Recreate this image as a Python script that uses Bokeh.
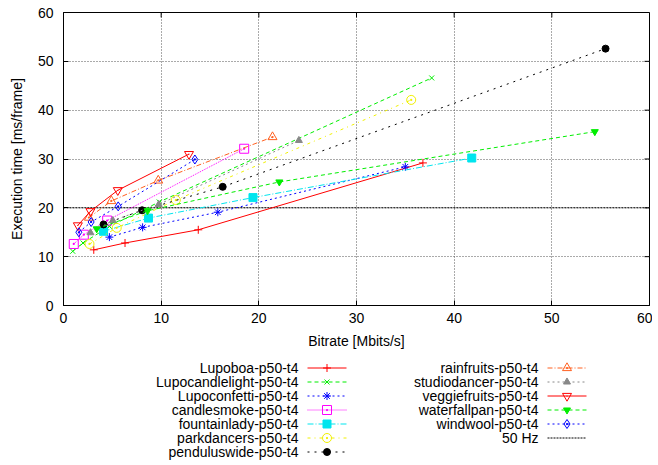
from bokeh.plotting import figure
from bokeh.models import Range1d, FixedTicker
from bokeh.layouts import column
from bokeh.embed import file_html
from bokeh.resources import INLINE
from bokeh.core.properties import value

# ---------------- data ----------------
lupoboa_x = [3.1, 6.3, 13.8, 36.8]
lupoboa_y = [11.4, 12.8, 15.5, 29.2]
lupocandlelight_x = [0.95, 2.0, 4.7, 9.8, 37.7]
lupocandlelight_y = [11.1, 12.8, 16.2, 21.2, 46.6]
lupoconfetti_x = [4.7, 8.1, 15.8, 35.0]
lupoconfetti_y = [14.0, 16.0, 19.1, 28.4]
candlesmoke_x = [1.05, 2.08, 4.47, 18.5]
candlesmoke_y = [12.6, 14.5, 17.4, 32.1]
fountainlady_x = [4.1, 8.7, 19.4, 41.8]
fountainlady_y = [15.2, 17.9, 22.1, 30.2]
parkdancers_x = [2.66, 5.45, 11.5, 35.6]
parkdancers_y = [12.6, 15.9, 21.6, 42.1]
penduluswide_x = [4.1, 8.05, 16.3, 55.5]
penduluswide_y = [16.6, 19.5, 24.3, 52.6]
rainfruits_x = [2.6, 4.9, 9.7, 21.4]
rainfruits_y = [18.0, 21.4, 25.6, 34.5]
studiodancer_x = [2.76, 5.05, 9.75, 24.1]
studiodancer_y = [14.9, 17.4, 20.7, 33.8]
veggiefruits_x = [1.47, 2.76, 5.56, 12.85]
veggiefruits_y = [16.4, 19.3, 23.6, 31.0]
waterfallpan_x = [3.4, 8.6, 22.1, 54.4]
waterfallpan_y = [15.7, 19.4, 25.3, 35.6]
windwool_x = [1.57, 2.83, 5.6, 13.45]
windwool_y = [15.0, 17.1, 20.3, 29.9]
fifty_hz_x = [0, 60]
fifty_hz_y = [20, 20]

x_ticks = [0, 10, 20, 30, 40, 50, 60]
y_ticks = [0, 10, 20, 30, 40, 50, 60]

series_names = ["Lupoboa-p50-t4", "Lupocandlelight-p50-t4", "Lupoconfetti-p50-t4",
                "candlesmoke-p50-t4", "fountainlady-p50-t4", "parkdancers-p50-t4",
                "penduluswide-p50-t4", "rainfruits-p50-t4", "studiodancer-p50-t4",
                "veggiefruits-p50-t4", "waterfallpan-p50-t4", "windwool-p50-t4"]
series_x = [lupoboa_x, lupocandlelight_x, lupoconfetti_x, candlesmoke_x, fountainlady_x,
            parkdancers_x, penduluswide_x, rainfruits_x, studiodancer_x, veggiefruits_x,
            waterfallpan_x, windwool_x]
series_y = [lupoboa_y, lupocandlelight_y, lupoconfetti_y, candlesmoke_y, fountainlady_y,
            parkdancers_y, penduluswide_y, rainfruits_y, studiodancer_y, veggiefruits_y,
            waterfallpan_y, windwool_y]

# ---------------- styles ----------------
colors = ["#ff0000", "#00ee00", "#0000ff", "#ff00ff", "#00e5ee", "#f0f000",
          "#000000", "#ff6020", "#888888", "#ff0000", "#00ee00", "#0000ff"]
dashes = ["solid", "4 3", "2 3", "1 1", "6 2 1 2", "3 4 1 4",
          "2 5", "5 2 1 2", "2 3", "solid", "4 3", "2 3"]
markers = ["cross", "x", "asterisk", "square_dot", "square", "circle_dot",
           "circle", "triangle_dot", "triangle", "inverted_triangle", "inverted_triangle", "diamond_dot"]
filled = [False, False, False, False, True, False, True, False, True, False, True, False]
sizes = [8, 7, 8, 9, 8, 9, 7, 9, 7, 9, 7, 9]
extra_dot = [False] * 9 + [True, False, False]

FONT = "Liberation Sans"
FS = "14px"
W = 652
BL, BR = 63, 3

X0, X1 = x_ticks[0], x_ticks[-1]
Y0, Y1 = y_ticks[0], y_ticks[-1]

p = figure(width=W, height=351, x_range=Range1d(X0, X1), y_range=Range1d(Y0, Y1),
           output_backend="svg", toolbar_location=None, title=None,
           min_border_left=BL, min_border_right=BR, min_border_top=12, min_border_bottom=43)
p.background_fill_color = "white"
p.border_fill_color = "white"
p.outline_line_color = "black"
p.outline_line_width = 1

for ax in [p.xaxis[0], p.yaxis[0]]:
    ax.major_tick_in = 5
    ax.major_tick_out = 0
    ax.minor_tick_line_color = None
    ax.axis_line_color = "black"
    ax.major_tick_line_color = "black"
    ax.major_label_text_font = FONT
    ax.major_label_text_font_size = FS
    ax.major_label_text_color = "black"
    ax.axis_label_text_font = FONT
    ax.axis_label_text_font_size = FS
    ax.axis_label_text_font_style = "normal"
    ax.axis_label_text_color = "black"
p.xaxis.ticker = FixedTicker(ticks=x_ticks)
p.yaxis.ticker = FixedTicker(ticks=y_ticks)
p.xaxis.axis_label = "Bitrate [Mbits/s]"
p.yaxis.axis_label = "Execution time [ms/frame]"
p.xaxis.major_label_standoff = 7
p.xaxis.axis_label_standoff = 7
p.yaxis.major_label_standoff = 10
p.yaxis.axis_label_standoff = 10

p.xgrid.ticker = FixedTicker(ticks=x_ticks)
p.ygrid.ticker = FixedTicker(ticks=y_ticks)
p.grid.grid_line_color = "#555555"
p.grid.grid_line_dash = "1 2"
p.grid.grid_line_width = 1

# mirror ticks on top and right (gnuplot style), ~5px long
frame_w = W - BL - BR
frame_h = 296
tx = 5 * (X1 - X0) / frame_w
ty = 5 * (Y1 - Y0) / frame_h
p.segment(x0=x_ticks, y0=[Y1] * len(x_ticks), x1=x_ticks, y1=[Y1 - ty] * len(x_ticks),
          line_color="black", line_width=1)
p.segment(x0=[X1] * len(y_ticks), y0=y_ticks, x1=[X1 - tx] * len(y_ticks), y1=y_ticks,
          line_color="black", line_width=1)

# 50 Hz line
p.line(fifty_hz_x, fifty_hz_y, line_color="black", line_dash="2 1", line_width=1)

for i in range(len(series_names)):
    c = colors[i]
    p.line(series_x[i], series_y[i], line_color=c, line_dash=dashes[i], line_width=1)
    p.scatter(series_x[i], series_y[i], marker=markers[i], size=sizes[i], line_color=c,
              fill_color=c if filled[i] else None, line_width=1)
    if extra_dot[i]:
        p.scatter(series_x[i], series_y[i], marker="dot", size=5, line_color=c, fill_color=c)

# ---------------- legend (gnuplot-style, text then sample) ----------------
# ranges expressed in page pixels of the legend frame
LH = 110
lg = figure(width=W, height=LH, x_range=Range1d(64, 650), y_range=Range1d(461.5, 351.5),
            output_backend="svg", toolbar_location=None, title=None,
            min_border_left=BL, min_border_right=BR, min_border_top=0, min_border_bottom=0,
            x_axis_type=None, y_axis_type=None)
lg.outline_line_color = None
lg.grid.visible = False
lg.border_fill_color = "white"

legend_names = series_names + ["50 Hz"]
legend_colors = colors + ["#000000"]
legend_dashes = dashes + ["2 1"]
col_text = [299] * 7 + [539] * 6
col_l0 = [308] * 7 + [548] * 6
col_l1 = [347] * 7 + [587] * 6
row_y = [368 + 14 * i for i in range(7)] + [368 + 14 * i for i in range(6)]

lg.text(x=col_text, y=row_y, text=legend_names, text_align="right", text_baseline="middle",
        text_font=value(FONT), text_font_size=FS, text_color="black")
for i in range(len(legend_names)):
    lg.line([col_l0[i], col_l1[i]], [row_y[i], row_y[i]], line_color=legend_colors[i],
            line_dash=legend_dashes[i], line_width=1)
    if i < 12:
        mx = (col_l0[i] + col_l1[i]) / 2
        lg.scatter([mx], [row_y[i]], marker=markers[i], size=sizes[i], line_color=colors[i],
                   fill_color=colors[i] if filled[i] else None, line_width=1)
        if extra_dot[i]:
            lg.scatter([mx], [row_y[i]], marker="dot", size=5, line_color=colors[i], fill_color=colors[i])

layout = column(p, lg, spacing=0)
open("out.html", "w").write(file_html(layout, INLINE))
